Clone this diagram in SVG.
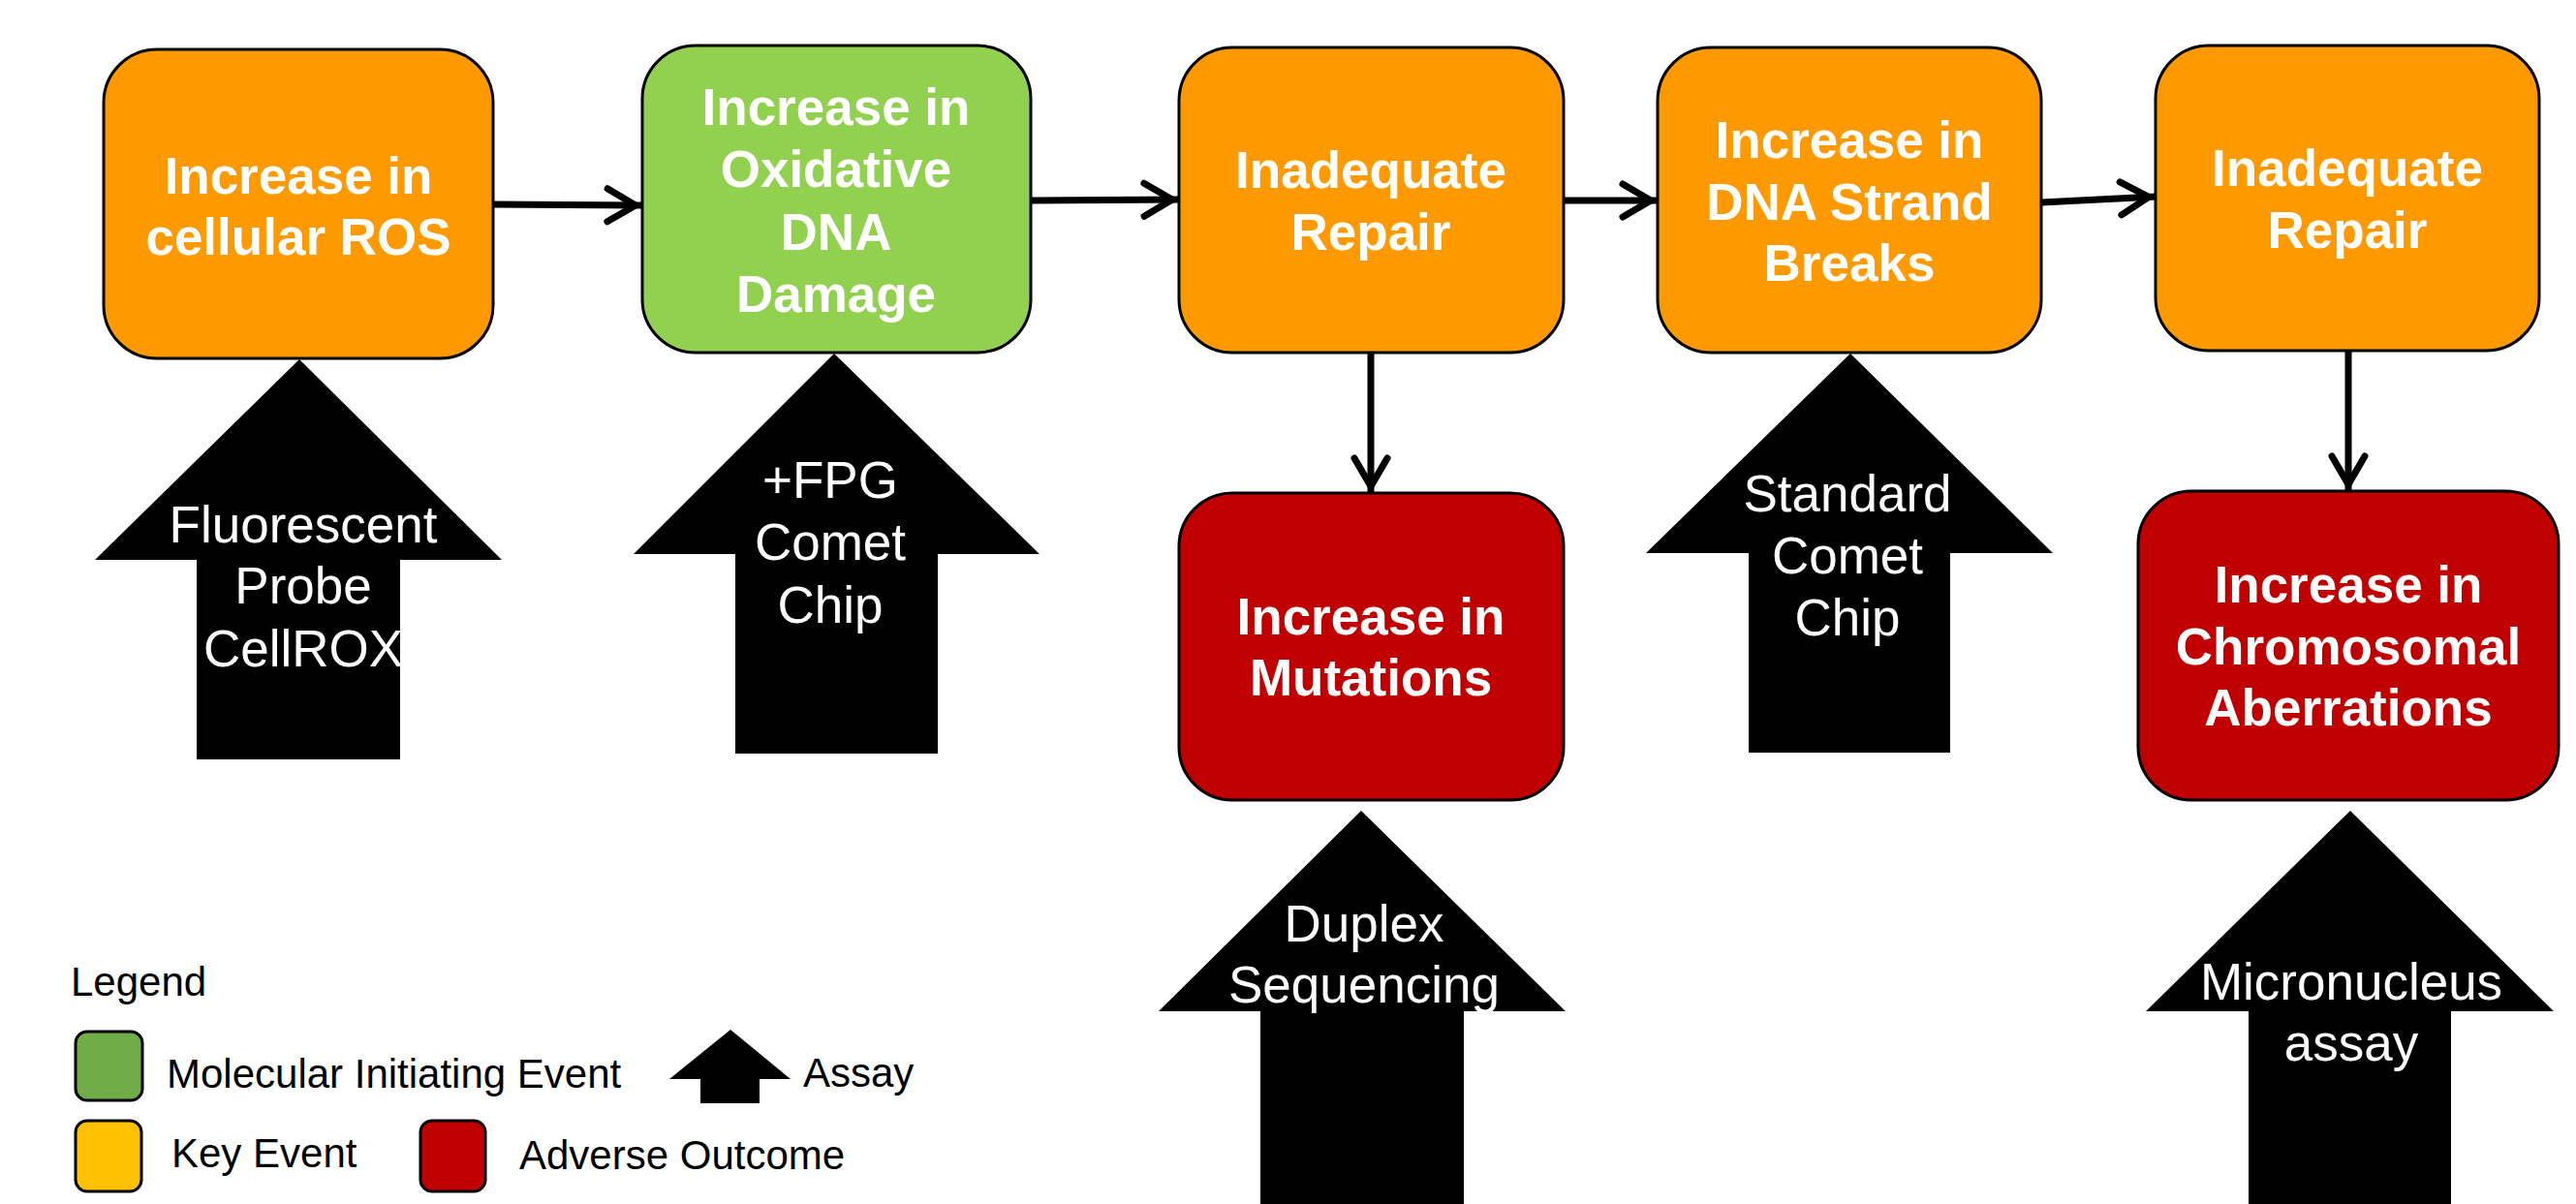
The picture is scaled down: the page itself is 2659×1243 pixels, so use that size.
<svg xmlns="http://www.w3.org/2000/svg" width="2659" height="1243" viewBox="0 0 2659 1243">
<style>
.box{stroke:#000;stroke-width:3}
.ke{fill:#FF9900}
.mie{fill:#92D050}
.ao{fill:#C00000}
.bt{font-family:"Liberation Sans",Arial,sans-serif;font-weight:bold;font-size:53px;fill:#fff;text-anchor:middle}
.at{font-family:"Liberation Sans",Arial,sans-serif;font-size:53px;fill:#fff;text-anchor:middle}
.lt{font-family:"Liberation Sans",Arial,sans-serif;font-size:42px;fill:#000}
.assay{fill:#000}
.conn{stroke:#000;stroke-width:7;fill:none;marker-end:url(#chev)}
</style>
<defs>
<marker id="chev" markerUnits="userSpaceOnUse" viewBox="0 0 60 50" markerWidth="60" markerHeight="50" refX="47" refY="25" orient="auto">
<path d="M11 8 L40 25 L11 42" fill="none" stroke="#000" stroke-width="7" stroke-linecap="round" stroke-linejoin="miter"/>
</marker>
</defs>
<rect width="2659" height="1243" fill="#fff"/>

<g id="connectors">
<path class="conn" d="M509 211 L663 212"/>
<path class="conn" d="M1064 207 L1217 206"/>
<path class="conn" d="M1614 207 L1711 207"/>
<path class="conn" d="M2107 209 L2225 203"/>
<path class="conn" d="M1415 364 L1415 509"/>
<path class="conn" d="M2424 362 L2424 507"/>
</g>

<g id="ke-ros">
<rect class="box ke" x="107" y="51" width="402" height="319" rx="55" ry="55"/>
<text class="bt" x="308"><tspan x="308" y="200">Increase in</tspan><tspan x="308" y="263">cellular ROS</tspan></text>
</g>
<g id="mie-oxdna">
<rect class="box mie" x="663" y="47" width="401" height="317" rx="55" ry="55"/>
<text class="bt"><tspan x="863" y="129">Increase in</tspan><tspan x="863" y="193">Oxidative</tspan><tspan x="863" y="258">DNA</tspan><tspan x="863" y="322">Damage</tspan></text>
</g>
<g id="ke-repair1">
<rect class="box ke" x="1217" y="49" width="397" height="315" rx="55" ry="55"/>
<text class="bt"><tspan x="1415" y="194">Inadequate</tspan><tspan x="1415" y="258">Repair</tspan></text>
</g>
<g id="ke-ssb">
<rect class="box ke" x="1711" y="49" width="396" height="315" rx="55" ry="55"/>
<text class="bt"><tspan x="1909" y="163">Increase in</tspan><tspan x="1909" y="227">DNA Strand</tspan><tspan x="1909" y="290">Breaks</tspan></text>
</g>
<g id="ke-repair2">
<rect class="box ke" x="2225" y="47" width="396" height="315" rx="55" ry="55"/>
<text class="bt"><tspan x="2423" y="192">Inadequate</tspan><tspan x="2423" y="256">Repair</tspan></text>
</g>
<g id="ao-mutations">
<rect class="box ao" x="1217" y="509" width="397" height="317" rx="55" ry="55"/>
<text class="bt"><tspan x="1415" y="655">Increase in</tspan><tspan x="1415" y="718">Mutations</tspan></text>
</g>
<g id="ao-chromosomal">
<rect class="box ao" x="2207" y="507" width="434" height="319" rx="55" ry="55"/>
<text class="bt"><tspan x="2424" y="622">Increase in</tspan><tspan x="2424" y="686">Chromosomal</tspan><tspan x="2424" y="749">Aberrations</tspan></text>
</g>

<g id="assay-cellrox">
<polygon class="assay" points="309,371 518,578 413,578 413,784 203,784 203,578 98,578"/>
<text class="at"><tspan x="313" y="560">Fluorescent</tspan><tspan x="313" y="623">Probe</tspan><tspan x="313" y="688">CellROX</tspan></text>
</g>
<g id="assay-fpg">
<polygon class="assay" points="861,365 1073,572 968,572 968,778 759,778 759,572 654,572"/>
<text class="at"><tspan x="857" y="514">+FPG</tspan><tspan x="857" y="578">Comet</tspan><tspan x="857" y="643">Chip</tspan></text>
</g>
<g id="assay-comet">
<polygon class="assay" points="1910,365 2119,571 2013,571 2013,777 1805,777 1805,571 1699,571"/>
<text class="at"><tspan x="1907" y="528">Standard</tspan><tspan x="1907" y="592">Comet</tspan><tspan x="1907" y="656">Chip</tspan></text>
</g>
<g id="assay-duplex">
<polygon class="assay" points="1405,837 1616,1044 1511,1044 1511,1250 1301,1250 1301,1044 1196,1044"/>
<text class="at"><tspan x="1408" y="972">Duplex</tspan><tspan x="1408" y="1035">Sequencing</tspan></text>
</g>
<g id="assay-micronucleus">
<polygon class="assay" points="2426,837 2636,1044 2530,1044 2530,1250 2321,1250 2321,1044 2215,1044"/>
<text class="at"><tspan x="2427" y="1032">Micronucleus</tspan><tspan x="2427" y="1095">assay</tspan></text>
</g>

<g id="legend">
<text class="lt" x="73" y="1028">Legend</text>
<rect x="78" y="1065" width="69" height="71" rx="12" ry="12" fill="#70AD47" stroke="#000" stroke-width="3"/>
<text class="lt" x="172" y="1123">Molecular Initiating Event</text>
<polygon class="assay" points="754,1063 816,1114 784,1114 784,1139 723,1139 723,1114 691,1114"/>
<text class="lt" x="829" y="1122">Assay</text>
<rect x="78" y="1157" width="68" height="73" rx="12" ry="12" fill="#FFC000" stroke="#000" stroke-width="3"/>
<text class="lt" x="177" y="1205">Key Event</text>
<rect x="434" y="1157" width="67" height="73" rx="12" ry="12" fill="#C00000" stroke="#000" stroke-width="3"/>
<text class="lt" x="536" y="1207">Adverse Outcome</text>
</g>
</svg>
